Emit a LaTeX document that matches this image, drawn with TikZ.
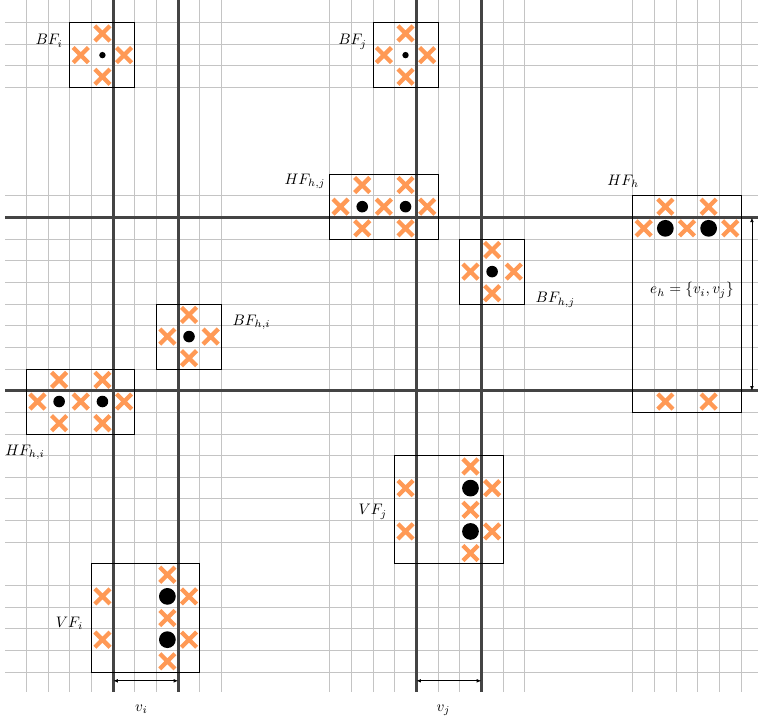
\documentclass[tikz,border=0pt]{standalone}
\usetikzlibrary{arrows.meta}
\definecolor{xorange}{RGB}{255,153,85}
\definecolor{gridgray}{RGB}{196,196,196}
\definecolor{darkline}{RGB}{68,68,68}
\begin{document}
\begin{tikzpicture}[x=0.5cm,y=-0.5cm,
  gridline/.style={gridgray,line width=0.6pt},
  mainline/.style={darkline,line width=2pt},
  fbox/.style={draw=black,line width=0.6pt},
  xmark/.style={xorange,line width=2.8pt},
  lbl/.style={inner sep=0pt,font=\fontsize{9.6}{11}\selectfont},
  dimarrow/.style={{Latex[length=3pt,width=2.4pt]}-{Latex[length=3pt,width=2.4pt]},line width=0.5pt,black}]
\useasboundingbox (-0.231,-0.046) rectangle (34.78,33.26);
% grid
\foreach \i in {1,2,3,4,5,6,7,8,9,10,15,16,17,18,19,20,21,22,23,24,29,30,31,32,33,34}
  \draw[gridline] (\i,-0.2) -- (\i,31.9);
\foreach \j in {1,2,3,4,9,10,11,12,13,14,15,16,17,18,19,20,21,22,23,24,25,27,28,29,30,31}
  \draw[gridline] (0,\j) -- (35,\j);
% main lines
\foreach \i in {5,8,19,22}
  \draw[mainline] (\i,-0.2) -- (\i,31.9);
\foreach \j in {10,18}
  \draw[mainline] (0,\j) -- (35,\j);
% boxes
\draw[fbox] (3,1) rectangle (6,4);
\draw[fbox] (17,1) rectangle (20,4);
\draw[fbox] (15,8) rectangle (20,11);
\draw[fbox] (21,11) rectangle (24,14);
\draw[fbox] (29,9) rectangle (34,19);
\draw[fbox] (7,14) rectangle (10,17);
\draw[fbox] (1,17) rectangle (6,20);
\draw[fbox] (18,21) rectangle (23,26);
\draw[fbox] (4,26) rectangle (9,31);
% crosses
\foreach \x/\y in {4.5/1.5,3.5/2.5,5.5/2.5,4.5/3.5,
                   18.5/1.5,17.5/2.5,19.5/2.5,18.5/3.5,
                   16.5/8.5,18.5/8.5,15.5/9.5,17.5/9.5,19.5/9.5,16.5/10.5,18.5/10.5,
                   22.5/11.5,21.5/12.5,23.5/12.5,22.5/13.5,
                   30.5/9.5,32.5/9.5,29.5/10.5,31.5/10.5,33.5/10.5,30.5/18.5,32.5/18.5,
                   8.5/14.5,7.5/15.5,9.5/15.5,8.5/16.5,
                   2.5/17.5,4.5/17.5,1.5/18.5,3.5/18.5,5.5/18.5,2.5/19.5,4.5/19.5,
                   21.5/21.5,21.5/23.5,21.5/25.5,18.5/22.5,18.5/24.5,22.5/22.5,22.5/24.5,
                   7.5/26.5,7.5/28.5,7.5/30.5,4.5/27.5,4.5/29.5,8.5/27.5,8.5/29.5}
  \draw[xmark] (\x-0.35,\y-0.35) -- (\x+0.35,\y+0.35) (\x-0.35,\y+0.35) -- (\x+0.35,\y-0.35);
% dots
\foreach \x/\y in {4.5/2.5,18.5/2.5}
  \fill (\x,\y) circle[radius=2.1pt];
\foreach \x/\y in {16.5/9.5,18.5/9.5,22.5/12.5,8.5/15.5,2.5/18.5,4.5/18.5}
  \fill (\x,\y) circle[radius=3.8pt];
\foreach \x/\y in {30.5/10.5,32.5/10.5,21.5/22.5,21.5/24.5,7.5/27.5,7.5/29.5}
  \fill (\x,\y) circle[radius=5.5pt];
% labels
\node[lbl,anchor=base east] (lBFi) at (2.68,2.03) {$BF_i$};
\node[lbl,anchor=base east] (lBFj) at (16.73,2.03) {$BF_j$};
\node[lbl,anchor=base east] (lHFhj) at (14.81,8.47) {$HF_{h,j}$};
\node[lbl,anchor=base east] (lHFh) at (29.3,8.5) {$HF_h$};
\node[lbl,anchor=base west] (lBFhj) at (24.5,13.94) {$BF_{h,j}$};
\node[lbl,anchor=base west] (lBFhi) at (10.5,14.97) {$BF_{h,i}$};
\node[lbl,anchor=base west] (lHFhi) at (0.0,21.0) {$HF_{h,i}$};
\node[lbl,anchor=base east] (lVFj) at (17.66,23.74) {$VF_j$};
\node[lbl,anchor=base east] (lVFi) at (3.62,28.93) {$VF_i$};
\node[lbl,anchor=base] (leh) at (31.73,13.53) {$e_h=\{v_i,v_j\}$};
\node[lbl,anchor=base] (lvi) at (6.3,32.8) {$v_i$};
\node[lbl,anchor=base] (lvj) at (20.25,32.8) {$v_j$};
% dimension arrows
\coordinate (vi1) at (5,31.4);
\coordinate (vi2) at (8,31.4);
\coordinate (vj1) at (19,31.4);
\coordinate (vj2) at (22,31.4);
\coordinate (eh1) at (34.5,10);
\coordinate (eh2) at (34.5,18);
\draw[dimarrow] (vi1) -- (vi2);
\draw[dimarrow] (vj1) -- (vj2);
\draw[dimarrow] (eh1) -- (eh2);
\end{tikzpicture}
\end{document}
